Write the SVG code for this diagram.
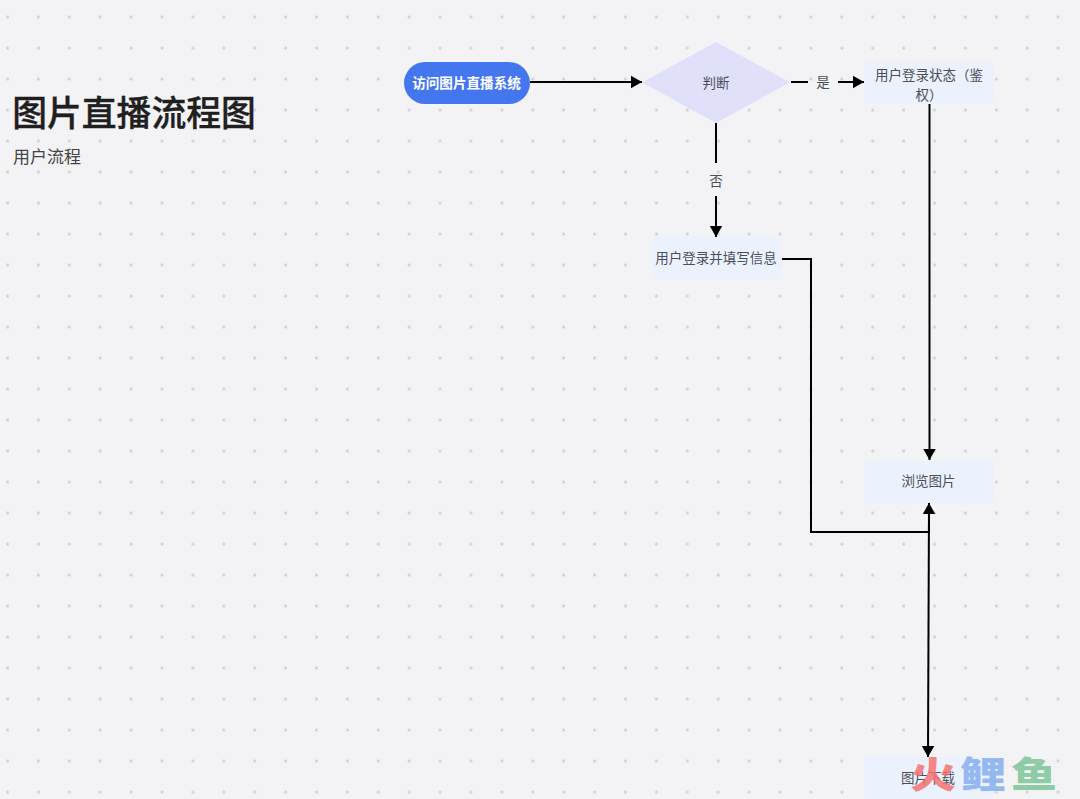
<svg xmlns="http://www.w3.org/2000/svg" width="1080" height="799" viewBox="0 0 1080 799">
<style>
text{font-family:"Noto Sans CJK SC","Noto Sans",sans-serif;text-anchor:middle}
.n{font-size:13.5px;fill:#4a4f5a}
.l{font-size:13.5px;fill:#4a4f5a}
.box{fill:#ecf2fd}
.c{fill:none;stroke:#000;stroke-width:2}
.wm{font-size:46px;font-weight:900;text-anchor:start}
</style>
<defs>
<pattern id="dots" x="-8" y="1.5" width="30.9" height="31" patternUnits="userSpaceOnUse"><circle cx="15.5" cy="15.5" r="1.5" fill="#cfd0d2"/></pattern>
<marker id="a" markerUnits="userSpaceOnUse" markerWidth="13" markerHeight="14" refX="11" refY="7" orient="auto"><path d="M0 0.800L11 7L0 13.200Z" fill="#000"/></marker>
</defs>
<rect width="1080" height="799" fill="#f3f3f6"/>
<rect width="1080" height="799" fill="url(#dots)"/>
<g id="title">
<text x="134" y="126" style="font-size:34.8px;font-weight:500;stroke:#1f1f1f;stroke-width:.4px;fill:#1f1f1f">图片直播流程图</text>
<text x="47" y="163" style="font-size:17px;fill:#444">用户流程</text>
</g>
<g id="node-start"><rect x="404" y="62" width="126" height="42" rx="21" fill="#4476f0"/><text x="466.500" y="88" style="font-size:13.600px;font-weight:700;fill:#fff">访问图片直播系统</text></g>
<g id="node-decision"><polygon points="642,82.500 716,42 790,82.500 716,123" fill="#e1e0fb"/><text class="n" x="716" y="87.500">判断</text></g>
<g id="node-auth"><rect class="box" x="864" y="62" width="130" height="42" rx="4"/><text class="n" x="929" y="80">用户登录状态（鉴</text><text class="n" x="929" y="100">权）</text></g>
<g id="node-login"><rect class="box" x="652" y="237" width="129" height="42" rx="4"/><text class="n" x="716" y="263">用户登录并填写信息</text></g>
<g id="node-browse"><rect class="box" x="864" y="461" width="130" height="42" rx="4"/><text class="n" x="928.500" y="486">浏览图片</text></g>
<g id="node-download"><rect class="box" x="864" y="757" width="130" height="42" rx="4"/><text class="n" x="928" y="783">图片下载</text></g>
<g id="connectors">
<path class="c" d="M530 82H642" marker-end="url(#a)"/>
<path class="c" d="M791 82H808"/>
<path class="c" d="M838 82H864" marker-end="url(#a)"/>
<path class="c" d="M716 123V163"/>
<path class="c" d="M716 196V237" marker-end="url(#a)"/>
<path class="c" d="M782 259H811V532H929V503" marker-end="url(#a)"/>
<path class="c" d="M929.500 104V460" marker-end="url(#a)"/>
<path class="c" d="M929 503L928 757" marker-end="url(#a)"/>
<text class="l" x="823" y="87">是</text>
<text class="l" x="716" y="186">否</text>
</g>
<g id="watermark">
<text class="wm" transform="translate(910 788) scale(1 .8)" fill="#f4716f" fill-opacity=".85">火</text>
<text class="wm" transform="translate(960 788) scale(1 .8)" fill="#84aef0" fill-opacity=".85">鲤</text>
<text class="wm" transform="translate(1011 788) scale(1 .8)" fill="#7ec49a" fill-opacity=".85">鱼</text>
</g>
</svg>
